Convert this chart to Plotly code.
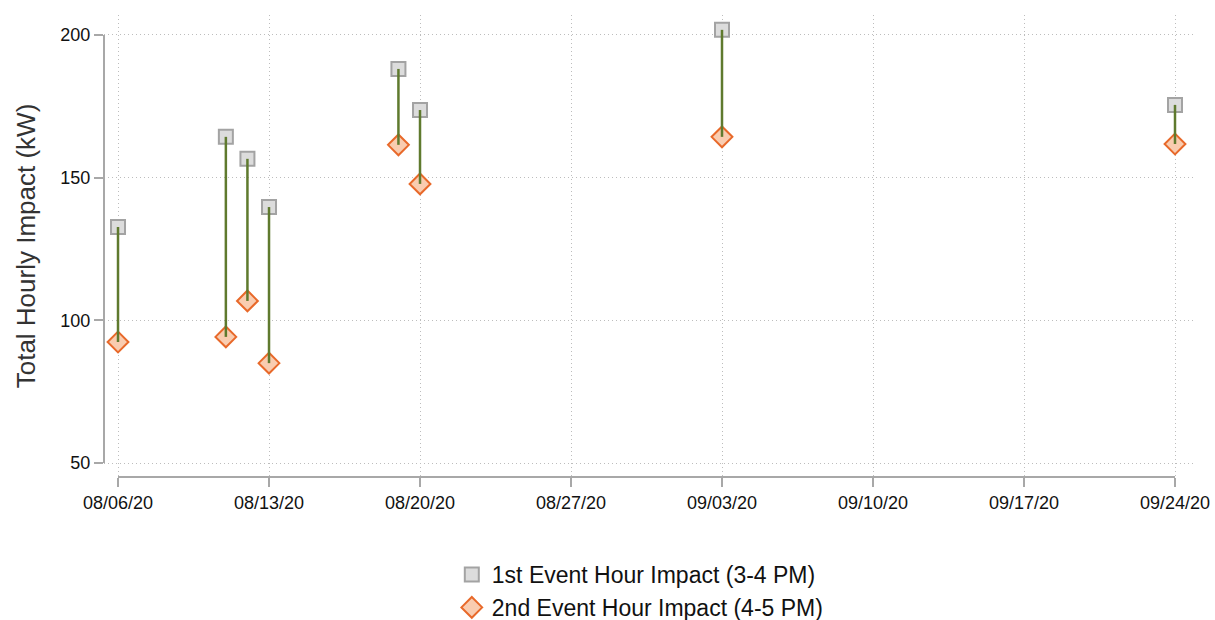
import plotly.graph_objects as go

dates = ['2020-08-06', '2020-08-11', '2020-08-12', '2020-08-13',
         '2020-08-19', '2020-08-20', '2020-09-03', '2020-09-24']
first_hour = [132.7, 164.3, 156.6, 139.7, 188.1, 173.7, 201.8, 175.5]
second_hour = [92.4, 94.2, 106.8, 85.0, 161.5, 147.8, 164.3, 161.8]
tick_dates = ['2020-08-06', '2020-08-13', '2020-08-20', '2020-08-27',
              '2020-09-03', '2020-09-10', '2020-09-17', '2020-09-24']
tick_labels = ['08/06/20', '08/13/20', '08/20/20', '08/27/20',
               '09/03/20', '09/10/20', '09/17/20', '09/24/20']
y_ticks = [50, 100, 150, 200]

FONT = 'Liberation Sans, Arial, sans-serif'

fig = go.Figure()

fig.add_trace(go.Scatter(
    x=dates, y=first_hour, mode='markers',
    name='1st Event Hour Impact (3-4 PM)',
    marker=dict(symbol='square', size=14, color='#dcdcdc',
                line=dict(color='#a3a3a3', width=2)),
))
fig.add_trace(go.Scatter(
    x=dates, y=second_hour, mode='markers',
    name='2nd Event Hour Impact (4-5 PM)',
    marker=dict(symbol='diamond', size=16, color='#f9ccb0',
                line=dict(color='#e8692a', width=2)),
))

lx, ly = [], []
for d, a, b in zip(dates, first_hour, second_hour):
    lx += [d, d, None]
    ly += [a, b, None]
fig.add_trace(go.Scatter(
    x=lx, y=ly, mode='lines', showlegend=False, hoverinfo='skip',
    line=dict(color='#5f7a2e', width=2.5),
))

# Axis lines (offset, Stata-like)
fig.add_shape(type='line', xref='paper', yref='y', x0=0, x1=0,
              y0=y_ticks[0], y1=y_ticks[-1],
              line=dict(color='#a8a8a8', width=2))
fig.add_shape(type='line', xref='x', yref='paper', x0=tick_dates[0],
              x1=tick_dates[-1], y0=0, y1=0,
              line=dict(color='#a8a8a8', width=2))

fig.update_layout(
    width=1215, height=620,
    margin=dict(l=104, r=20, t=15, b=143, autoexpand=False),
    paper_bgcolor='white', plot_bgcolor='white',
    font=dict(family=FONT, color='#111111'),
    legend=dict(xref='container', yref='container',
                x=0.527, xanchor='center', y=0.108, yanchor='top',
                font=dict(size=23, color='#111111', family=FONT),
                itemsizing='trace', tracegroupgap=0, bgcolor='rgba(0,0,0,0)'),
    xaxis=dict(
        type='date', automargin=False,
        range=['2020-08-05 08:25', '2020-09-24 22:15'],
        tickvals=tick_dates, ticktext=tick_labels,
        tickfont=dict(size=18, color='#111111'),
        ticks='outside', ticklen=9, tickwidth=2, tickcolor='#a8a8a8',
        showgrid=True, gridcolor='#bdbdbd', gridwidth=1, griddash='1px,3px',
        showline=False, zeroline=False,
    ),
    yaxis=dict(
        automargin=False,
        range=[45.1, 207.0],
        tickvals=y_ticks,
        tickfont=dict(size=18, color='#111111'),
        ticks='outside', ticklen=9, tickwidth=2, tickcolor='#a8a8a8',
        showgrid=True, gridcolor='#bdbdbd', gridwidth=1, griddash='1px,3px',
        showline=False, zeroline=False,
        title=dict(text='Total Hourly Impact (kW)',
                   font=dict(size=26, color='#333333'), standoff=17),
    ),
)

fig.write_html('out.html')
